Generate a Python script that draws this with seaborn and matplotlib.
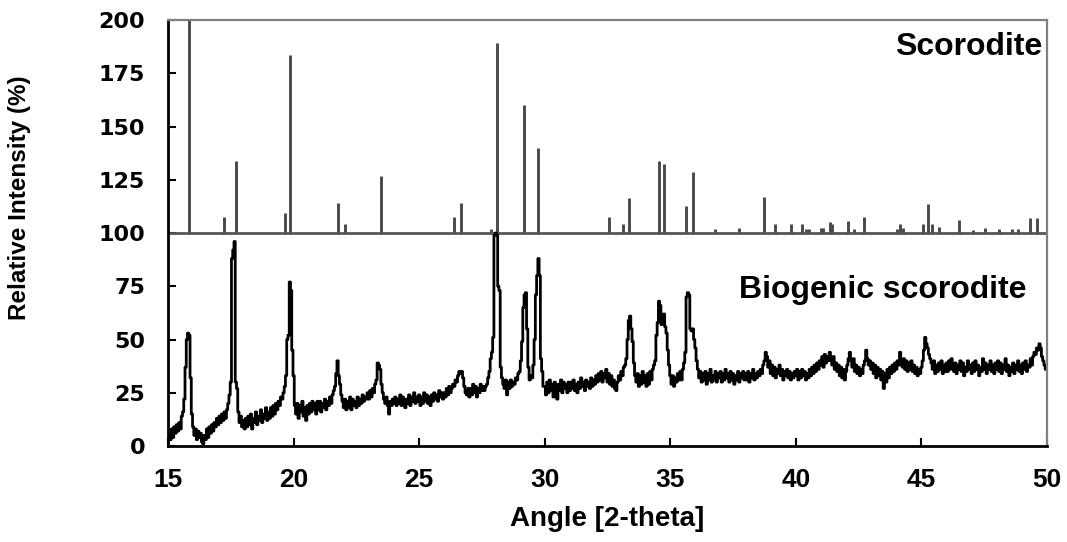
"""
XRD comparison: scorodite reference sticks vs biogenic scorodite pattern.
"""

import matplotlib
matplotlib.use("Agg")
import matplotlib.pyplot as plt
import seaborn as sns
import numpy as np
import pandas as pd

# Reference scorodite pattern (2-theta, intensity on the offset scale, base at 100)
stick_angle = [15.85, 17.24, 17.70, 19.67, 19.86, 21.77, 22.05, 23.47, 26.39, 26.67,
               27.85, 28.11, 29.19, 29.75, 32.54, 33.10, 33.37, 34.55, 34.73, 35.64,
               35.92, 36.76, 37.73, 38.71, 39.17, 39.81, 40.25, 40.40, 40.54, 41.00,
               41.07, 41.34, 41.45, 42.07, 42.33, 42.72, 44.02, 44.16, 44.26, 45.05,
               45.24, 45.43, 45.71, 46.50, 47.07, 47.52, 48.07, 48.60, 48.86, 49.33,
               49.60]
stick_height = [205, 107.7, 133.8, 109.5, 183.6, 114, 104, 126.9, 107.7, 114,
                102, 189, 160, 140, 107.7, 104, 116.3, 133.8, 132.3, 112.8,
                128.5, 101.7, 102.2, 117, 104, 104, 104, 102, 102, 102.5,
                102.5, 105, 104, 105.5, 102, 107.5, 102, 104, 102.5, 104,
                113.5, 104, 103, 106, 101.5, 102.5, 102, 101.7, 102, 107,
                107]
stick_base = 100

# Biogenic scorodite measured pattern, 15.00 .. 50.00 deg in 0.05 deg steps
angle_start, angle_step = 15.0, 0.05
bio_intensity = [
    2, 5, 3, 8, 4, 9, 6, 10, 7, 11, 8, 14, 16, 22, 37, 50, 53, 52, 32, 15,
    9, 5, 8, 3, 7, 4, 6, 2, 1, 5, 3, 8, 4, 9, 6, 10, 7, 11, 9, 13,
    10, 14, 11, 15, 12, 16, 13, 17, 20, 24, 30, 88, 92, 96, 30, 27, 16, 11, 14, 9,
    12, 8, 13, 9, 14, 10, 15, 8, 13, 11, 16, 10, 14, 12, 17, 11, 15, 13, 18, 12,
    16, 13, 18, 14, 19, 15, 20, 17, 21, 19, 23, 22, 25, 28, 33, 50, 52, 77, 73, 45,
    33, 19, 15, 20, 13, 19, 16, 21, 14, 18, 12, 19, 15, 20, 16, 21, 17, 20, 15, 21,
    17, 21, 16, 20, 18, 22, 17, 21, 19, 23, 20, 24, 26, 28, 34, 40, 33, 29, 24, 21,
    18, 22, 17, 21, 18, 23, 17, 22, 19, 21, 18, 23, 19, 22, 20, 24, 21, 23, 22, 25,
    22, 26, 23, 27, 25, 29, 31, 39, 38, 36, 29, 25, 22, 20, 23, 19, 15, 21, 19, 22,
    20, 23, 19, 22, 20, 24, 19, 23, 21, 18, 22, 20, 24, 19, 23, 21, 25, 20, 23, 21,
    24, 19, 23, 20, 25, 21, 24, 20, 23, 19, 24, 21, 25, 22, 24, 21, 26, 23, 25, 22,
    25, 23, 27, 24, 28, 25, 27, 29, 28, 31, 30, 33, 35, 34, 35, 32, 28, 25, 24, 27,
    23, 27, 24, 29, 25, 28, 23, 27, 25, 29, 26, 28, 26, 28, 29, 32, 35, 41, 44, 51,
    99, 100, 99, 75, 73, 37, 32, 29, 27, 31, 24, 30, 27, 31, 28, 30, 29, 32, 31, 34,
    35, 40, 49, 65, 71, 72, 55, 37, 31, 33, 32, 38, 50, 71, 80, 88, 80, 41, 35, 28,
    28, 24, 30, 25, 31, 26, 29, 23, 30, 25, 22, 29, 26, 31, 25, 30, 27, 29, 25, 30,
    26, 30, 27, 31, 26, 29, 25, 30, 27, 32, 28, 30, 26, 31, 28, 30, 27, 32, 28, 31,
    29, 33, 30, 34, 31, 35, 30, 34, 32, 36, 30, 34, 29, 33, 28, 31, 27, 26, 30, 33,
    31, 35, 33, 37, 38, 41, 50, 59, 61, 55, 49, 39, 33, 30, 34, 28, 33, 29, 35, 30,
    33, 28, 34, 29, 35, 31, 36, 38, 40, 52, 58, 68, 66, 57, 60, 62, 56, 53, 45, 38,
    33, 29, 33, 28, 32, 30, 34, 31, 35, 31, 36, 39, 44, 70, 72, 71, 55, 54, 55, 50,
    46, 40, 36, 32, 35, 30, 34, 31, 35, 29, 34, 31, 36, 30, 33, 31, 35, 30, 34, 32,
    35, 30, 34, 31, 36, 32, 34, 30, 35, 31, 34, 29, 33, 31, 35, 30, 34, 32, 35, 31,
    34, 31, 35, 30, 34, 32, 36, 31, 34, 32, 35, 33, 36, 34, 38, 40, 44, 42, 37, 40,
    34, 38, 33, 37, 32, 36, 34, 38, 33, 36, 31, 35, 33, 36, 32, 35, 31, 34, 32, 35,
    33, 36, 31, 35, 32, 36, 33, 35, 31, 34, 32, 36, 33, 37, 34, 38, 35, 39, 36, 40,
    38, 42, 37, 43, 39, 42, 40, 44, 41, 38, 42, 36, 39, 35, 38, 33, 37, 32, 36, 31,
    35, 38, 41, 44, 40, 37, 41, 35, 38, 34, 37, 33, 36, 34, 38, 40, 45, 41, 38, 40,
    36, 39, 34, 38, 32, 37, 33, 36, 31, 35, 27, 34, 30, 36, 32, 37, 34, 38, 35, 39,
    36, 40, 38, 44, 40, 37, 41, 36, 40, 35, 39, 36, 40, 35, 38, 34, 37, 33, 36, 34,
    37, 40, 45, 51, 48, 46, 43, 41, 39, 36, 40, 34, 38, 35, 39, 36, 40, 34, 38, 35,
    39, 35, 40, 36, 41, 37, 35, 39, 34, 38, 36, 40, 35, 39, 33, 37, 35, 40, 36, 38,
    34, 39, 35, 40, 36, 38, 33, 37, 35, 41, 36, 39, 34, 38, 36, 40, 35, 38, 34, 39,
    36, 40, 35, 39, 34, 38, 36, 41, 35, 38, 33, 37, 35, 39, 34, 38, 36, 40, 35, 38,
    34, 39, 36, 40, 35, 38, 37, 41, 38, 42, 44, 43, 46, 45, 48, 46, 42, 40, 38, 36,
    37,
]

x_ticks = [15, 20, 25, 30, 35, 40, 45, 50]
y_ticks = [0, 25, 50, 75, 100, 125, 150, 175, 200]

bio = pd.DataFrame({
    "angle": angle_start + angle_step * np.arange(len(bio_intensity)),
    "intensity": bio_intensity,
})

sns.set_style("ticks")
plt.rcParams["font.family"] = ["Liberation Sans", "DejaVu Sans"]
plt.rcParams["text.color"] = "black"
plt.rcParams["axes.labelcolor"] = "black"
plt.rcParams["xtick.color"] = "black"
plt.rcParams["ytick.color"] = "black"

fig = plt.figure(figsize=(10.67, 5.42), dpi=100)
ax = fig.add_axes([0.1575, 0.1771, 0.8238, 0.786])

# reference sticks and their baseline
ax.vlines(stick_angle, stick_base, stick_height, color="#4a4a4a", linewidth=2.1)
ax.axhline(stick_base, color="#555555", linewidth=2)

sns.lineplot(data=bio, x="angle", y="intensity", ax=ax, color="black",
             linewidth=2.0, estimator=None, sort=False, drawstyle="steps-mid")

ax.set_xlim(15, 50)
ax.set_ylim(0, 200)
ax.set_xticks(x_ticks)
ax.set_yticks(y_ticks)
ax.tick_params(direction="in", length=6, width=1.5, color="black",
               labelcolor="black")
ax.tick_params(axis="y", pad=16.5)
ax.tick_params(axis="x", pad=16)
for lab in ax.get_yticklabels():
    lab.set_fontweight("bold")
    lab.set_family(["DejaVu Sans"])
    lab.set_fontsize(16)
for lab in ax.get_xticklabels():
    lab.set_fontweight("bold")
    lab.set_fontsize(19)

for side in ["left", "bottom"]:
    ax.spines[side].set_color("black")
    ax.spines[side].set_linewidth(2)
for side in ["top", "right"]:
    ax.spines[side].set_color("#808080")
    ax.spines[side].set_linewidth(1.6)

ax.set_xlabel("Angle [2-theta]", fontsize=20, fontweight="bold", color="black")
ax.set_ylabel("Relative Intensity (%)", fontsize=17.5, fontweight="bold",
              color="black")
ax.xaxis.set_label_coords(0.5, -0.141)
ax.yaxis.set_label_coords(-0.156, 0.582)

ax.text(49.8, 183.6, "Scorodite", ha="right", va="baseline",
        fontsize=23, fontweight="bold", color="black")
ax.text(49.2, 69.3, "Biogenic scorodite", ha="right", va="baseline",
        fontsize=23, fontweight="bold", color="black")

fig.savefig("out.png", dpi=100)
plt.close(fig)
